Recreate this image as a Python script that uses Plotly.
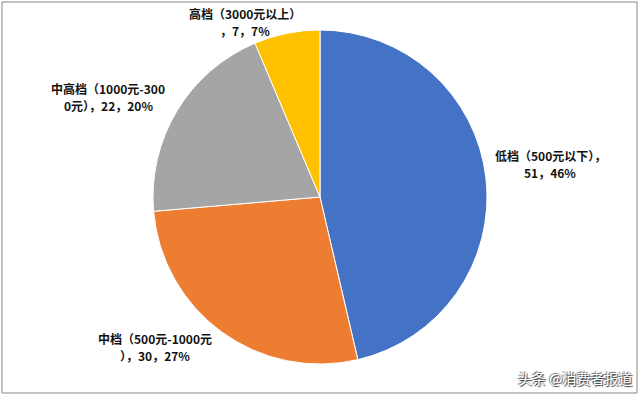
import plotly.graph_objects as go

categories = ["低档（500元以下）", "中档（500元-1000元）", "中高档（1000元-3000元）", "高档（3000元以上）"]
values = [51, 30, 22, 7]
percents = ["46%", "27%", "20%", "7%"]
colors = ["#4472C4", "#ED7D31", "#A5A5A5", "#FFC000"]

# wrapped label text as in the reference
label_lines = [
    ["低档（500元以下），", "{v}，{p}"],
    ["中档（500元-1000元", "），{v}，{p}"],
    ["中高档（1000元-300", "0元），{v}，{p}"],
    ["高档（3000元以上）", "，{v}，{p}"],
]
label_pos = [(550, 155), (155, 338), (108, 88), (245, 13)]

W, H = 640, 396
cx, cy, r = 320, 197, 167

fig = go.Figure(go.Pie(
    labels=categories, values=values, sort=False, direction="clockwise", rotation=0,
    marker=dict(colors=colors, line=dict(color="white", width=1)),
    textinfo="none", hoverinfo="label+value+percent", showlegend=False,
    domain=dict(x=[(cx - r) / W, (cx + r) / W], y=[(H - cy - r) / H, (H - cy + r) / H]),
))

font = dict(family="Noto Sans CJK SC", size=12, color="#111")
for lines, v, p, (x, y) in zip(label_lines, values, percents, label_pos):
    for i, line in enumerate(lines):
        fig.add_annotation(x=x / W, y=1 - (y + 17 * i) / H, xref="paper", yref="paper",
                           text="<b>" + line.format(v=v, p=p) + "</b>",
                           showarrow=False, font=font, xanchor="center", yanchor="middle",
                           borderpad=0)

fig.add_annotation(x=634 / W, y=1 - 378 / H, xref="paper", yref="paper", text="头条 @消费者报道",
                   showarrow=False, xanchor="right", yanchor="middle",
                   font=dict(family="Noto Sans CJK SC", size=14, color="white",
                             shadow="1px 1px 1px #333, -1px -1px 1px #666"))

fig.add_shape(type="rect", xref="paper", yref="paper", x0=2 / W, x1=637 / W, y0=1 - 393 / H, y1=1 - 2 / H,
              line=dict(color="#888", width=1))

fig.update_layout(width=W, height=H, margin=dict(l=0, r=0, t=0, b=0),
                  paper_bgcolor="white", plot_bgcolor="white")
fig.write_html("out.html", config={"displayModeBar": False},
               post_script="document.body.style.margin='0';document.body.style.overflow='hidden';")
